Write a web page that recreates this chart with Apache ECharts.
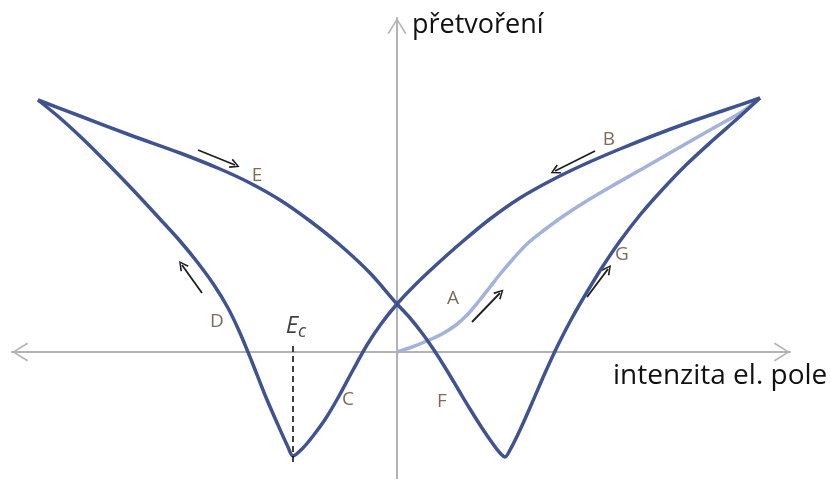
<!DOCTYPE html>
<html>
<head>
<meta charset="utf-8">
<script src="https://cdn.jsdelivr.net/npm/echarts@6/dist/echarts.min.js"></script>
<style>
  html, body { margin: 0; padding: 0; background: #fff; }
  #chart { width: 831px; height: 479px; }
</style>
</head>
<body>
<div id="chart"></div>
<script>
// units: 1 = 10 px of the original drawing, origin where the axes cross
// left tip -> E -> F -> right minimum -> G -> right tip
var branchEFG = [
  [-35.9, 25.2], [-31.7, 23.6], [-26.7, 21.7], [-21.7, 19.9], [-17.7, 18.3],
  [-14.7, 16.9], [-11.7, 15.2], [-8.7, 13.1], [-5.7, 10.7], [-2.7, 7.9],
  [0, 4.8], [1.3, 3.4], [2.5, 1.9], [3.7, 0.2], [4.9, -1.7],
  [6.1, -3.7], [7.3, -5.7], [8.5, -7.6], [9.6, -9.2], [10.3, -10.1],
  [10.8, -10.5], [11.3, -9.8], [12.3, -7.8], [13.5, -5.1], [14.8, -2.1],
  [16.1, 0.7], [17.5, 3.4], [19.0, 6.0], [20.6, 8.6], [22.3, 11.1],
  [24.3, 13.7], [26.5, 16.2], [28.9, 18.7], [31.5, 21.1], [34.0, 23.3],
  [36.3, 25.4]
];
// right tip -> B -> C -> left minimum -> D -> left tip
var branchBCD = [
  [36.3, 25.4], [32.8, 24.2], [29.3, 23.0], [25.8, 21.7], [22.3, 20.3],
  [18.8, 18.8], [15.5, 17.2], [12.3, 15.4], [9.3, 13.3], [6.5, 11.0],
  [3.8, 8.6], [1.8, 6.7], [0, 4.8], [-1.6, 2.8], [-3.0, 0.7],
  [-4.4, -1.8], [-5.8, -4.4], [-7.1, -6.6], [-8.4, -8.4], [-9.5, -9.7],
  [-10.4, -10.4], [-10.9, -9.5], [-11.9, -7.3], [-13.2, -4.3], [-14.5, -1.0],
  [-15.7, 1.9], [-16.9, 4.4], [-18.3, 6.7], [-19.9, 8.9], [-21.7, 11.1],
  [-23.7, 13.3], [-26.2, 16.0], [-28.7, 18.6], [-31.2, 21.1], [-33.7, 23.4],
  [-35.9, 25.2]
];
// first loading A
var branchA = [
  [0, 0], [1.5, 0.5], [3.0, 1.1], [4.5, 1.8], [5.9, 2.7], [7.1, 3.8],
  [8.2, 5.1], [9.3, 6.5], [10.4, 7.9], [11.6, 9.3], [13.0, 10.8],
  [14.6, 12.1], [16.5, 13.5], [18.8, 15.0], [21.5, 16.6], [24.5, 18.3],
  [27.8, 20.2], [31.3, 22.2], [34.3, 23.9], [36.3, 25.4]
];
var ecLine = [[-10.4, 0.6], [-10.4, -11.3]];

var letters = ['A', 'B', 'C', 'D', 'E', 'F', 'G'];
var letterPos = [
  [5.6, 5.3], [21.2, 21.2], [-4.9, -4.8], [-18.0, 3.0],
  [-14.0, 17.6], [4.5, -5.0], [22.5, 9.7]
];
var arrows = [
  [[7.5, 3.0], [10.3, 5.9]],      // A
  [[19.8, 20.1], [15.8, 18.1]],   // B
  [[-19.5, 5.9], [-21.5, 8.7]],   // D
  [[-19.9, 20.2], [-16.2, 18.7]], // E
  [[19.0, 5.5], [21.1, 8.3]]      // G
];

var xMin = -38.5, xMax = 39.3, yMin = -12.7, yMax = 33.4;
var axisGrey = '#b3b3b3';
var dark = '#405391';
var light = '#a2b2dc';
var chevron = 'path://M0,16 L10,0 L20,16 L18.4,16.9 L10,3 L1.6,16.9 Z';
var head = 'path://M0,10 L5,0 L10,10 L8.5,10.8 L5,3.2 L1.5,10.8 Z';

var chart = echarts.init(document.getElementById('chart'));
var option = {
  animation: false,
  grid: { left: 12, right: 41, top: 18, bottom: 0 },
  xAxis: {
    type: 'value', min: xMin, max: xMax,
    axisLine: { onZero: true, lineStyle: { color: axisGrey, width: 2 },
      symbol: [chevron, chevron], symbolSize: [20, 16], symbolOffset: [8, -8] },
    axisTick: { show: false }, axisLabel: { show: false }, splitLine: { show: false }
  },
  yAxis: {
    type: 'value', min: yMin, max: yMax,
    axisLine: { onZero: true, lineStyle: { color: axisGrey, width: 2 },
      symbol: ['none', chevron], symbolSize: [20, 16], symbolOffset: [0, -8] },
    axisTick: { show: false }, axisLabel: { show: false }, splitLine: { show: false }
  },
  graphic: [
    { type: 'text', left: 412, top: 12,
      style: { text: 'přetvoření', font: '27px "Open Sans"', fill: '#111' } },
    { type: 'text', left: 613, top: 362,
      style: { text: 'intenzita el. pole', font: '28px "Open Sans"', fill: '#111' } }
  ],
  series: [
    { type: 'line', data: branchA, smooth: 0.3, symbol: 'none',
      lineStyle: { color: light, width: 3.5 } },
    { type: 'line', data: branchEFG, smooth: 0.3, symbol: 'none',
      lineStyle: { color: dark, width: 3.5 } },
    { type: 'line', data: branchBCD, smooth: 0.3, symbol: 'none',
      lineStyle: { color: dark, width: 3.5 } },
    { type: 'line', data: ecLine, symbol: 'none',
      lineStyle: { color: '#111', width: 1.6, type: [6, 4] } },
    { type: 'scatter', symbolSize: 0,
      data: letters.map(function (l, i) { return { name: l, value: letterPos[i] }; }),
      label: { show: true, position: 'inside', formatter: '{b}',
        fontFamily: 'Open Sans', fontSize: 19, color: '#5b4632' } },
    { type: 'scatter', symbolSize: 0,
      data: [{ name: 'Ec', value: [-10.1, 2.6] }],
      label: { show: true, position: 'inside', formatter: '{e|E}{c|c}',
        rich: {
          e: { fontFamily: 'Open Sans', fontStyle: 'italic', fontSize: 24, color: '#111' },
          c: { fontFamily: 'Open Sans', fontStyle: 'italic', fontSize: 18, color: '#111', padding: [12, 0, 0, 0] }
        } } },
    { type: 'lines', coordinateSystem: 'cartesian2d', silent: true,
      symbol: ['none', head], symbolSize: [12, 10],
      lineStyle: { color: '#1e1e1e', width: 1.8, opacity: 1 },
      data: arrows.map(function (a) { return { coords: a }; }) }
  ]
};
chart.setOption(option);
</script>
</body>
</html>
